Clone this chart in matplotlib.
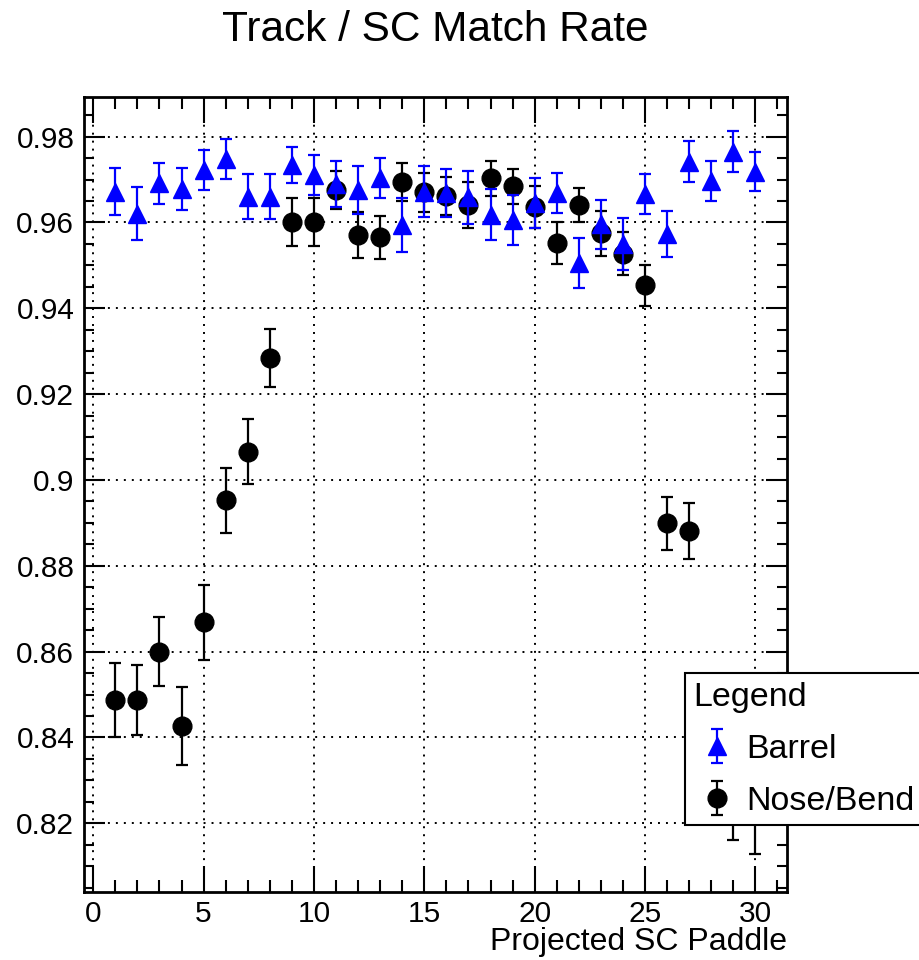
import numpy as np
import matplotlib
matplotlib.use("Agg")
import matplotlib.pyplot as plt
from matplotlib.ticker import MultipleLocator, FuncFormatter

plt.rcParams['font.family'] = ['Liberation Sans', 'DejaVu Sans']

paddle = np.arange(1, 31)

barrel = [0.9672, 0.9620, 0.9691, 0.9677, 0.9722, 0.9748, 0.9660, 0.9660, 0.9734, 0.9711,
          0.9690, 0.9676, 0.9703, 0.9594, 0.9672, 0.9668, 0.9659, 0.9618, 0.9606, 0.9645,
          0.9668, 0.9506, 0.9596, 0.9550, 0.9667, 0.9573, 0.9742, 0.9697, 0.9765, 0.9718]
barrel_err = [0.0055, 0.0062, 0.0048, 0.0049, 0.0047, 0.0047, 0.0052, 0.0052, 0.0041, 0.0047,
              0.0054, 0.0056, 0.0047, 0.0062, 0.0060, 0.0056, 0.0062, 0.0060, 0.0058, 0.0058,
              0.0047, 0.0058, 0.0057, 0.0060, 0.0047, 0.0054, 0.0047, 0.0047, 0.0047, 0.0045]

# last three Nose/Bend points sit behind the legend in the original
nose = [0.8487, 0.8487, 0.8600, 0.8427, 0.8668, 0.8953, 0.9066, 0.9284, 0.9601, 0.9601,
        0.9676, 0.9571, 0.9565, 0.9695, 0.9670, 0.9662, 0.9641, 0.9703, 0.9684, 0.9636,
        0.9552, 0.9641, 0.9575, 0.9527, 0.9454, 0.8899, 0.8881, 0.8400, 0.8245, 0.8235]
nose_err = [0.0086, 0.0082, 0.0080, 0.0091, 0.0087, 0.0076, 0.0076, 0.0068, 0.0057, 0.0057,
            0.0044, 0.0054, 0.0049, 0.0044, 0.0045, 0.0045, 0.0054, 0.0041, 0.0041, 0.0050,
            0.0049, 0.0040, 0.0052, 0.0050, 0.0048, 0.0062, 0.0066, 0.0080, 0.0084, 0.0107]

fig = plt.figure(figsize=(9.2, 9.6), dpi=100)
ax = fig.add_axes([84 / 920, 68 / 960, 702.7 / 920, 795.3 / 960])

# black drawn first, blue on top (as in the original)
h_nose = ax.errorbar(paddle, nose, yerr=nose_err, fmt='o', color='black', ms=13.5,
                     elinewidth=1.6, capsize=4, capthick=1.6, label='Nose/Bend', zorder=3)
h_barrel = ax.errorbar(paddle, barrel, yerr=barrel_err, fmt='^', color='#0000ff', ms=13,
                       elinewidth=1.6, capsize=4, capthick=1.6, label='Barrel', zorder=4)

ax.set_xlim(-0.42, 31.42)
ax.set_ylim(0.804, 0.9893)

ax.xaxis.set_major_locator(MultipleLocator(5))
ax.xaxis.set_minor_locator(MultipleLocator(1))
ax.yaxis.set_major_locator(MultipleLocator(0.02))
ax.yaxis.set_minor_locator(MultipleLocator(0.005))
ax.yaxis.set_major_formatter(FuncFormatter(lambda v, p: f"{round(v, 3):g}"))

ax.tick_params(which='both', direction='in', top=True, right=True, width=1.5, labelsize=21.5)
ax.tick_params(axis='x', which='major', length=19, pad=6)
ax.tick_params(axis='x', which='minor', length=8.5)
ax.tick_params(axis='y', which='major', length=15, pad=7)
ax.tick_params(axis='y', which='minor', length=7)

for s in ax.spines.values():
    s.set_linewidth(2)

ax.grid(True, which='major', color='black', linestyle=(0, (1, 3.1)), linewidth=1.4)
ax.set_axisbelow(True)

ax.set_xlabel("Projected SC Paddle", loc='right', fontsize=23, labelpad=-1)

fig.text(435 / 920, 1 - 30 / 960, "Track / SC Match Rate", fontsize=30.5,
         ha='center', va='center')

leg = fig.legend(handles=[h_barrel, h_nose], labels=['Barrel', 'Nose/Bend'],
                 title='Legend', alignment='left', fontsize=24.5, title_fontsize=24.5,
                 loc='upper left', bbox_to_anchor=(685 / 920, 1 - 673 / 960),
                 fancybox=False, framealpha=1, edgecolor='black',
                 borderpad=0.25, handlelength=1.4, handletextpad=0.15, labelspacing=0.62,
                 borderaxespad=0)
leg.get_frame().set_linewidth(1.5)

fig.savefig("out.png", dpi=100)
